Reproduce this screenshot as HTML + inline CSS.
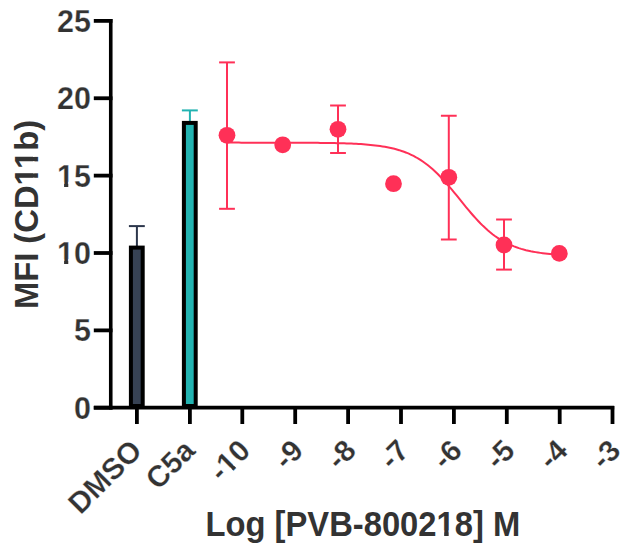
<!DOCTYPE html>
<html><head><meta charset="utf-8"><style>
html,body{margin:0;padding:0;background:#fff;width:629px;height:548px;overflow:hidden}
svg{display:block}
text{font-family:"Liberation Sans",sans-serif;font-weight:bold;fill:#333333;white-space:pre;stroke:#fff;stroke-width:0.25px}
.yl{font-size:30.5px}
.xl{font-size:29.8px}
.tt{font-size:32.75px;stroke-width:0px}
</style></head><body>
<svg width="629" height="548" viewBox="0 0 629 548">
<line x1="93.8" y1="20.88" x2="112.5" y2="20.88" stroke="#000" stroke-width="3.8"/>
<g transform="translate(90.90 31.77)"><text id="t0" x="0" y="0" text-anchor="end" class="yl">25</text></g>
<line x1="93.8" y1="98.25" x2="112.5" y2="98.25" stroke="#000" stroke-width="3.8"/>
<g transform="translate(90.90 109.15)"><text id="t1" x="0" y="0" text-anchor="end" class="yl">20</text></g>
<line x1="93.8" y1="175.62" x2="112.5" y2="175.62" stroke="#000" stroke-width="3.8"/>
<g transform="translate(90.90 186.53)"><text id="t2" x="0" y="0" text-anchor="end" class="yl">15</text><rect x="-33.49" y="-4.77" width="6.67" height="6.55" fill="#fff"/><rect x="-22.63" y="-4.77" width="5.82" height="6.55" fill="#fff"/></g>
<line x1="93.8" y1="253.00" x2="112.5" y2="253.00" stroke="#000" stroke-width="3.8"/>
<g transform="translate(90.90 263.90)"><text id="t3" x="0" y="0" text-anchor="end" class="yl">10</text><rect x="-33.49" y="-4.77" width="6.67" height="6.55" fill="#fff"/><rect x="-22.63" y="-4.77" width="5.82" height="6.55" fill="#fff"/></g>
<line x1="93.8" y1="330.38" x2="112.5" y2="330.38" stroke="#000" stroke-width="3.8"/>
<g transform="translate(90.90 341.27)"><text id="t4" x="0" y="0" text-anchor="end" class="yl">5</text></g>
<line x1="93.8" y1="407.75" x2="112.5" y2="407.75" stroke="#000" stroke-width="3.8"/>
<g transform="translate(90.90 418.65)"><text id="t5" x="0" y="0" text-anchor="end" class="yl">0</text></g>
<line x1="110.75" y1="18.9" x2="110.75" y2="409.6" stroke="#000" stroke-width="3.6"/>
<line x1="136.9" y1="406" x2="136.9" y2="424" stroke="#000" stroke-width="3.8"/>
<line x1="189.9" y1="406" x2="189.9" y2="424" stroke="#000" stroke-width="3.8"/>
<line x1="242.3" y1="406" x2="242.3" y2="424" stroke="#000" stroke-width="3.8"/>
<line x1="295.2" y1="406" x2="295.2" y2="424" stroke="#000" stroke-width="3.8"/>
<line x1="348.1" y1="406" x2="348.1" y2="424" stroke="#000" stroke-width="3.8"/>
<line x1="401.0" y1="406" x2="401.0" y2="424" stroke="#000" stroke-width="3.8"/>
<line x1="453.9" y1="406" x2="453.9" y2="424" stroke="#000" stroke-width="3.8"/>
<line x1="506.8" y1="406" x2="506.8" y2="424" stroke="#000" stroke-width="3.8"/>
<line x1="559.7" y1="406" x2="559.7" y2="424" stroke="#000" stroke-width="3.8"/>
<line x1="612.5" y1="406" x2="612.5" y2="424" stroke="#000" stroke-width="3.8"/>
<line x1="136.9" y1="247" x2="136.9" y2="226.1" stroke="#2c364b" stroke-width="2"/>
<line x1="128.9" y1="226.1" x2="144.8" y2="226.1" stroke="#2c364b" stroke-width="2"/>
<rect x="130.9" y="247.6" width="11.8" height="158.4" fill="#374254" stroke="#000" stroke-width="4"/>
<line x1="189.9" y1="122" x2="189.9" y2="110.4" stroke="#22b3b1" stroke-width="2"/>
<line x1="181.9" y1="110.4" x2="197.8" y2="110.4" stroke="#22b3b1" stroke-width="2"/>
<rect x="183.9" y="122.9" width="11.8" height="283.1" fill="#22b3b1" stroke="#000" stroke-width="4"/>
<line x1="93.8" y1="407.65" x2="614.2" y2="407.65" stroke="#000" stroke-width="3.6"/>
<path d="M227.00,142.62 L229.39,142.62 L231.78,142.62 L234.18,142.62 L236.57,142.62 L238.96,142.62 L241.35,142.63 L243.74,142.63 L246.14,142.63 L248.53,142.63 L250.92,142.63 L253.31,142.63 L255.71,142.63 L258.10,142.63 L260.49,142.64 L262.88,142.64 L265.27,142.64 L267.67,142.64 L270.06,142.65 L272.45,142.65 L274.84,142.65 L277.23,142.66 L279.63,142.66 L282.02,142.67 L284.41,142.67 L286.80,142.68 L289.19,142.68 L291.59,142.69 L293.98,142.70 L296.37,142.71 L298.76,142.72 L301.15,142.73 L303.55,142.74 L305.94,142.76 L308.33,142.77 L310.72,142.79 L313.12,142.81 L315.51,142.83 L317.90,142.85 L320.29,142.88 L322.68,142.90 L325.08,142.94 L327.47,142.97 L329.86,143.01 L332.25,143.05 L334.64,143.10 L337.04,143.15 L339.43,143.21 L341.82,143.28 L344.21,143.35 L346.60,143.43 L349.00,143.52 L351.39,143.61 L353.78,143.72 L356.17,143.84 L358.56,143.98 L360.96,144.12 L363.35,144.29 L365.74,144.47 L368.13,144.67 L370.53,144.89 L372.92,145.13 L375.31,145.40 L377.70,145.70 L380.09,146.03 L382.49,146.39 L384.88,146.79 L387.27,147.23 L389.66,147.71 L392.05,148.24 L394.45,148.83 L396.84,149.47 L399.23,150.17 L401.62,150.94 L404.01,151.78 L406.41,152.70 L408.80,153.70 L411.19,154.79 L413.58,155.97 L415.97,157.25 L418.37,158.63 L420.76,160.12 L423.15,161.72 L425.54,163.44 L427.94,165.27 L430.33,167.22 L432.72,169.29 L435.11,171.48 L437.50,173.78 L439.90,176.19 L442.29,178.71 L444.68,181.33 L447.07,184.03 L449.46,186.81 L451.86,189.66 L454.25,192.55 L456.64,195.49 L459.03,198.44 L461.42,201.40 L463.82,204.35 L466.21,207.27 L468.60,210.15 L470.99,212.98 L473.38,215.73 L475.78,218.40 L478.17,220.99 L480.56,223.47 L482.95,225.84 L485.35,228.10 L487.74,230.25 L490.13,232.27 L492.52,234.18 L494.91,235.97 L497.31,237.64 L499.70,239.20 L502.09,240.65 L504.48,242.00 L506.87,243.24 L509.27,244.39 L511.66,245.45 L514.05,246.42 L516.44,247.31 L518.83,248.12 L521.23,248.87 L523.62,249.55 L526.01,250.17 L528.40,250.73 L530.79,251.25 L533.19,251.71 L535.58,252.14 L537.97,252.52 L540.36,252.87 L542.76,253.19 L545.15,253.48 L547.54,253.74 L549.93,253.97 L552.32,254.19 L554.72,254.38 L557.11,254.55 L559.50,254.71" fill="none" stroke="#ff3057" stroke-width="2"/>
<line x1="227" y1="62.4" x2="227" y2="208.8" stroke="#ff3057" stroke-width="2"/>
<line x1="219.1" y1="62.4" x2="234.9" y2="62.4" stroke="#ff3057" stroke-width="2"/>
<line x1="219.1" y1="208.8" x2="234.9" y2="208.8" stroke="#ff3057" stroke-width="2"/>
<line x1="338.0" y1="105.5" x2="338.0" y2="153" stroke="#ff3057" stroke-width="2"/>
<line x1="330.1" y1="105.5" x2="345.9" y2="105.5" stroke="#ff3057" stroke-width="2"/>
<line x1="330.1" y1="153" x2="345.9" y2="153" stroke="#ff3057" stroke-width="2"/>
<line x1="448.8" y1="115.75" x2="448.8" y2="239.5" stroke="#ff3057" stroke-width="2"/>
<line x1="440.90000000000003" y1="115.75" x2="456.7" y2="115.75" stroke="#ff3057" stroke-width="2"/>
<line x1="440.90000000000003" y1="239.5" x2="456.7" y2="239.5" stroke="#ff3057" stroke-width="2"/>
<line x1="504" y1="219.5" x2="504" y2="269.6" stroke="#ff3057" stroke-width="2"/>
<line x1="496.1" y1="219.5" x2="511.9" y2="219.5" stroke="#ff3057" stroke-width="2"/>
<line x1="496.1" y1="269.6" x2="511.9" y2="269.6" stroke="#ff3057" stroke-width="2"/>
<circle cx="227" cy="135.3" r="8.4" fill="#ff3057"/>
<circle cx="282.7" cy="144.8" r="8.4" fill="#ff3057"/>
<circle cx="338.0" cy="129.3" r="8.4" fill="#ff3057"/>
<circle cx="393.5" cy="183.7" r="8.4" fill="#ff3057"/>
<circle cx="448.8" cy="177.3" r="8.4" fill="#ff3057"/>
<circle cx="504" cy="245.0" r="8.4" fill="#ff3057"/>
<circle cx="559.3" cy="253.4" r="8.4" fill="#ff3057"/>
<g transform="translate(143.70 452.30) rotate(-45)"><text id="t6" x="0" y="0" text-anchor="end" class="xl">DMSO</text></g>
<g transform="translate(196.70 452.30) rotate(-45)"><text id="t7" x="0" y="0" text-anchor="end" class="xl">C5a</text></g>
<g transform="translate(252.00 452.30) rotate(-45)"><text id="t8" x="0" y="0" text-anchor="end" class="xl">-10</text><rect x="-32.72" y="-4.66" width="6.52" height="6.40" fill="#fff"/><rect x="-22.11" y="-4.66" width="5.69" height="6.40" fill="#fff"/></g>
<g transform="translate(304.90 452.30) rotate(-45)"><text id="t9" x="0" y="0" text-anchor="end" class="xl">-9</text></g>
<g transform="translate(357.80 452.30) rotate(-45)"><text id="t10" x="0" y="0" text-anchor="end" class="xl">-8</text></g>
<g transform="translate(410.70 452.30) rotate(-45)"><text id="t11" x="0" y="0" text-anchor="end" class="xl">-7</text></g>
<g transform="translate(463.60 452.30) rotate(-45)"><text id="t12" x="0" y="0" text-anchor="end" class="xl">-6</text></g>
<g transform="translate(516.50 452.30) rotate(-45)"><text id="t13" x="0" y="0" text-anchor="end" class="xl">-5</text></g>
<g transform="translate(569.40 452.30) rotate(-45)"><text id="t14" x="0" y="0" text-anchor="end" class="xl">-4</text></g>
<g transform="translate(622.20 452.30) rotate(-45)"><text id="t15" x="0" y="0" text-anchor="end" class="xl">-3</text></g>
<g transform="translate(362.85 535.60) scale(1 1.043)"><text id="t16" x="0" y="0" text-anchor="middle" class="tt">Log [PVB-800218] M</text><rect x="74.15" y="-5.12" width="7.16" height="7.04" fill="#fff"/><rect x="85.81" y="-5.12" width="6.25" height="7.04" fill="#fff"/></g>
<g transform="translate(38.10 214.50) rotate(-90)"><text id="t17" x="0" y="0" text-anchor="middle" class="tt">MFI (CD11b)</text><rect x="29.55" y="-5.12" width="7.16" height="7.04" fill="#fff"/><rect x="41.21" y="-5.12" width="6.25" height="7.04" fill="#fff"/><rect x="45.96" y="-5.12" width="7.16" height="7.04" fill="#fff"/><rect x="57.61" y="-5.12" width="6.25" height="7.04" fill="#fff"/></g>
</svg>
</body></html>
